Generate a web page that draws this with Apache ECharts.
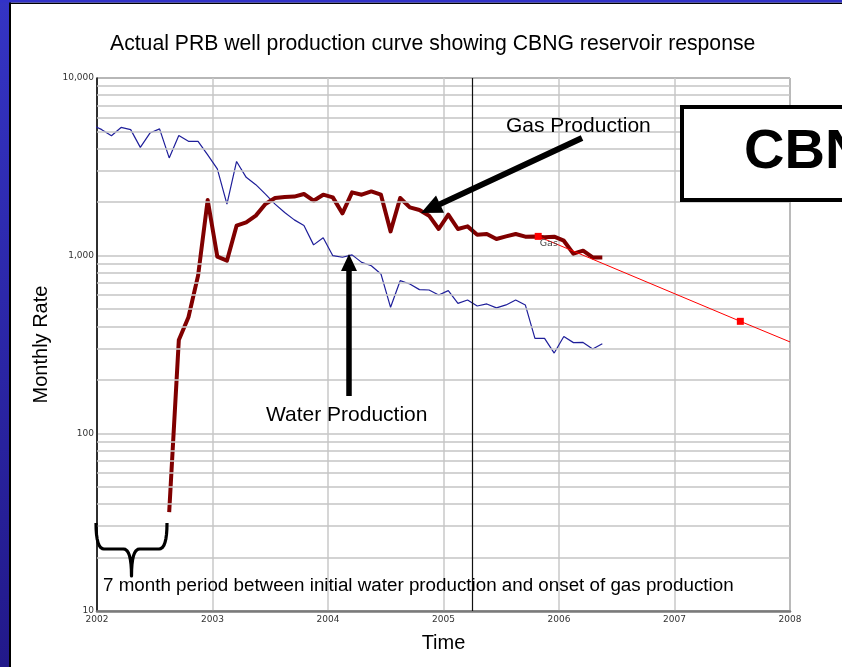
<!DOCTYPE html>
<html>
<head>
<meta charset="utf-8">
<title>PRB well production curve</title>
<script src="https://cdn.jsdelivr.net/npm/echarts@6/dist/echarts.min.js"></script>
<style>
  html, body { margin: 0; padding: 0; background: #fff; }
  #chart { width: 842px; height: 667px; }
</style>
</head>
<body>
<div id="chart"></div>
<script>
// ---- Data -------------------------------------------------------------
// Monthly water production, first month 2001-12 (clipped at the 2002 axis edge)
const waterStart = '2001-12';
const waterRate = [
  5430,
  5120, 4730, 5270, 5120, 4070, 4900, 5170, 3550, 4750, 4400, 4400, 3690,
  3080, 1950, 3390, 2760, 2510, 2220, 1950, 1750, 1590, 1480, 1150, 1260,
  1000, 980, 1010, 917, 878, 789, 512, 723, 693, 644, 641, 601,
  636, 539, 563, 521, 535, 508, 528, 563, 528, 342, 342, 283,
  351, 324, 325, 298, 319
];

// Monthly gas production, first month 2002-08
const gasStart = '2002-08';
const gasRate = [
  36, 335, 450, 772, 2058,
  987, 937, 1475, 1539, 1680, 1952, 2112, 2140, 2150, 2224, 2039, 2204,
  2129, 1730, 2271, 2204, 2300, 2204, 1370, 2112, 1869, 1807, 1679, 1413,
  1701, 1413, 1462, 1313, 1325, 1241, 1284, 1325, 1279, 1280, 1268, 1279,
  1214, 1026, 1067, 978, 978
];

// Gas decline forecast (decimal years)
const forecastYears = [2005.82, 2007.57, 2008.0];
const forecastRate = [1284, 427, 327];

// Axis ticks
const yearTicks = [2002, 2003, 2004, 2005, 2006, 2007, 2008];
const rateTicks = [10, 100, 1000, 10000];
const markerYear = 2005.25;

// ---- Helpers ----------------------------------------------------------
// Mid-month decimal year for consecutive months from a 'YYYY-MM' start
function monthlyYears(start, count) {
  const [y, m] = start.split('-').map(Number);
  const out = [];
  for (let i = 0; i < count; i++) {
    const idx = (m - 1) + i;
    out.push(y + Math.floor(idx / 12) + ((idx % 12) + 0.5) / 12);
  }
  return out;
}
function pairs(xs, ys) { return ys.map((v, i) => [xs[i], v]); }

const waterYears = monthlyYears(waterStart, waterRate.length);
const gasYears = monthlyYears(gasStart, gasRate.length);

// Log-paper minor grid values (2..9 per decade)
const minorGrid = [];
for (let d = 0; d < rateTicks.length - 1; d++) {
  for (let k = 2; k <= 9; k++) minorGrid.push(rateTicks[d] * k);
}

function arrowPoints(x1, y1, x2, y2, shaft, headL, headW) {
  const dx = x2 - x1, dy = y2 - y1, L = Math.hypot(dx, dy);
  const ux = dx / L, uy = dy / L, px = -uy, py = ux;
  const bx = x2 - ux * headL, by = y2 - uy * headL;
  const s = shaft / 2, h = headW / 2;
  return [
    [x1 + px * s, y1 + py * s], [bx + px * s, by + py * s], [bx + px * h, by + py * h],
    [x2, y2],
    [bx - px * h, by - py * h], [bx - px * s, by - py * s], [x1 - px * s, y1 - py * s]
  ];
}

// Curly brace as a polyline: quadratic corners sampled into points
function bracePoints(xl, xr, yTop, yBar, yTip, r) {
  const xm = (xl + xr) / 2, pts = [];
  function quad(p0, p1, p2) {
    for (let t = 0; t <= 1.0001; t += 0.125) {
      const a = (1 - t) * (1 - t), b = 2 * (1 - t) * t, c = t * t;
      pts.push([a * p0[0] + b * p1[0] + c * p2[0], a * p0[1] + b * p1[1] + c * p2[1]]);
    }
  }
  quad([xl, yTop], [xl, yBar], [xl + r, yBar]);
  quad([xm - r, yBar], [xm, yBar], [xm, yTip]);
  quad([xm, yTip], [xm, yBar], [xm + r, yBar]);
  quad([xr - r, yBar], [xr, yBar], [xr, yTop]);
  return pts;
}

const SANS = '"Liberation Sans", Arial, sans-serif';
const TICKFONT = '"DejaVu Sans", Verdana, sans-serif';

const chart = echarts.init(document.getElementById('chart'), null, { renderer: 'canvas' });

const option = {
  animation: false,
  backgroundColor: '#ffffff',
  title: {
    text: 'Actual PRB well production curve showing CBNG reservoir response',
    left: 110, top: 34, padding: 0,
    textStyle: { fontFamily: SANS, fontSize: 21.2, fontWeight: 'normal', color: '#000' }
  },
  grid: {
    left: 97, right: 52, top: 78, bottom: 56,
    show: true, borderColor: '#222', borderWidth: 1
  },
  xAxis: {
    type: 'value', min: yearTicks[0], max: yearTicks[yearTicks.length - 1], interval: 1,
    name: 'Time', nameLocation: 'middle', nameGap: 22,
    nameTextStyle: { fontFamily: SANS, fontSize: 20, color: '#000' },
    axisLine: { lineStyle: { color: '#7a7a7a', width: 2.5 } },
    axisTick: { show: false },
    axisLabel: { fontFamily: TICKFONT, fontSize: 9, color: '#333', margin: 4, formatter: v => String(v) },
    splitLine: { show: true, lineStyle: { color: '#c8c8c8', width: 1.5 } }
  },
  yAxis: {
    type: 'log', logBase: 10, min: rateTicks[0], max: rateTicks[rateTicks.length - 1],
    name: 'Monthly Rate', nameLocation: 'middle', nameGap: 41,
    nameTextStyle: { fontFamily: SANS, fontSize: 20, color: '#000' },
    axisLine: { lineStyle: { color: '#000', width: 1.5 } },
    axisTick: { show: false },
    axisLabel: { fontFamily: TICKFONT, fontSize: 9, color: '#333', margin: 3,
      formatter: v => Number(v).toLocaleString('en-US') },
    splitLine: { show: true, lineStyle: { color: '#c4c4c4', width: 1.5 } }
  },
  series: [
    {
      // log-paper minor grid and the reference date line
      type: 'line', data: [], z: 1, silent: true,
      markLine: {
        silent: true, symbol: ['none', 'none'], animation: false,
        label: { show: false },
        data: minorGrid.map(v => ({ yAxis: v, lineStyle: { color: '#c4c4c4', width: 1.5, type: 'solid' } }))
          .concat([{ xAxis: markerYear, lineStyle: { color: '#111', width: 1.2, type: 'solid' } }])
      }
    },
    {
      name: 'Water', type: 'line', z: 3,
      data: pairs(waterYears, waterRate),
      showSymbol: false, symbol: 'none',
      lineStyle: { color: '#1f1f9a', width: 1.2 },
      clip: true
    },
    {
      name: 'Gas', type: 'line', z: 4,
      data: pairs(gasYears, gasRate),
      showSymbol: false, symbol: 'none',
      lineStyle: { color: '#800000', width: 4, join: 'round', cap: 'butt' },
      clip: true
    },
    {
      name: 'Forecast', type: 'line', z: 5,
      data: forecastYears.map((x, i) => ({
        value: [x, forecastRate[i]],
        symbol: i < 2 ? 'rect' : 'none',
        label: i === 0 ? { show: true, formatter: 'Gas', position: [5, 6],
          fontFamily: TICKFONT, fontSize: 9.5, color: '#444' } : { show: false }
      })),
      symbol: 'rect', symbolSize: 7, showAllSymbol: true,
      itemStyle: { color: '#ff0000' },
      lineStyle: { color: '#ff0000', width: 1 },
      clip: true
    }
  ],
  graphic: [
    // slide frame
    { type: 'rect', z: 200, shape: { x: 0, y: 0, width: 9, height: 667 },
      style: { fill: new echarts.graphic.LinearGradient(0, 0, 0, 1, [
        { offset: 0, color: '#3434c4' }, { offset: 1, color: '#22198a' }]) } },
    { type: 'rect', z: 200, shape: { x: 9, y: 0, width: 2, height: 667 }, style: { fill: '#000' } },
    { type: 'rect', z: 200, shape: { x: 0, y: 0, width: 842, height: 2.5 }, style: { fill: '#3232c8' } },
    { type: 'rect', z: 199, shape: { x: 0, y: 2.5, width: 842, height: 1.5 }, style: { fill: '#000' } },

    // CBNG box
    { type: 'rect', z: 150, shape: { x: 682, y: 107, width: 200, height: 93 },
      style: { fill: '#fff', stroke: '#000', lineWidth: 4 } },
    { type: 'text', z: 151, x: 744, y: 153,
      style: { text: 'CBNG', fontFamily: SANS, fontWeight: 'bold', fontSize: 56, fill: '#000',
        verticalAlign: 'middle', align: 'left' } },

    // annotations
    { type: 'text', z: 120, x: 506, y: 126,
      style: { text: 'Gas Production', fontFamily: SANS, fontSize: 21, fill: '#000', verticalAlign: 'middle' } },
    { type: 'polygon', z: 120, shape: { points: arrowPoints(582, 138, 421, 213, 6, 21, 19) },
      style: { fill: '#000' } },
    { type: 'text', z: 120, x: 266, y: 415,
      style: { text: 'Water Production', fontFamily: SANS, fontSize: 21, fill: '#000', verticalAlign: 'middle' } },
    { type: 'polygon', z: 120, shape: { points: arrowPoints(349, 396, 349, 254, 5.5, 17, 16) },
      style: { fill: '#000' } },
    { type: 'polyline', z: 120, shape: { points: bracePoints(96, 167, 523, 549, 576, 8) },
      style: { fill: null, stroke: '#000', lineWidth: 3.2, lineJoin: 'round' } },
    { type: 'text', z: 120, x: 103, y: 586,
      style: { text: '7 month period between initial water production and onset of gas production',
        fontFamily: SANS, fontSize: 18.8, fill: '#000', verticalAlign: 'middle' } }
  ]
};

chart.setOption(option);
</script>
</body>
</html>
